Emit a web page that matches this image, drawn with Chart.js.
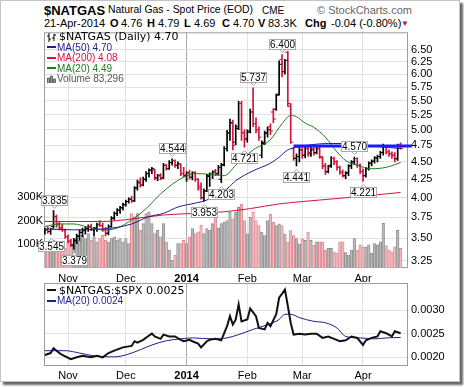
<!DOCTYPE html>
<html>
<head>
<meta charset="utf-8">
<title>$NATGAS</title>
<script src="https://cdn.jsdelivr.net/npm/chart.js@4/dist/chart.umd.min.js"></script>
<style>
  body { margin: 0; background: #fff; }
  #frame { position: absolute; left: 0; top: 0; width: 458px; height: 380px; border: 1px solid #c4c4c4; box-shadow: 3px 3px 2px #666; background: #fff; }
  canvas { position: absolute; left: 0; }
  #main { top: 30px; }
  #ratio { top: 281px; }
  .t { position: absolute; white-space: nowrap; line-height: 1; font-family: "Liberation Sans", Arial, sans-serif; color: #000; }
  .dv { font-family: "DejaVu Sans", Verdana, sans-serif; }
  .b { font-weight: bold; }
  .mk { position: absolute; width: 9px; height: 2px; }
</style>
</head>
<body>
<div id="frame"></div>
<canvas id="main" width="464" height="252"></canvas>
<canvas id="ratio" width="464" height="100"></canvas>

<div class="t b" style="left:44px;top:4px;font-size:13px">$NATGAS</div>
<div class="t" style="left:108px;top:5px;font-size:10.4px">Natural Gas - Spot Price (EOD)</div>
<div class="t" style="left:262px;top:6px;font-size:10px">CME</div>
<div class="t" style="left:317px;top:5px;font-size:11px;color:#666">&copy; StockCharts.com</div>

<div class="t" style="left:44px;top:18px;font-size:11px">21-Apr-2014</div>
<div class="t b" style="left:110px;top:18px;font-size:11px">O</div>
<div class="t" style="left:121px;top:18px;font-size:11px">4.76</div>
<div class="t b" style="left:147px;top:18px;font-size:11px">H</div>
<div class="t" style="left:158px;top:18px;font-size:11px">4.79</div>
<div class="t b" style="left:184px;top:18px;font-size:11px">L</div>
<div class="t" style="left:194px;top:18px;font-size:11px">4.69</div>
<div class="t b" style="left:222px;top:18px;font-size:11px">C</div>
<div class="t" style="left:233px;top:18px;font-size:11px">4.70</div>
<div class="t b" style="left:258px;top:18px;font-size:11px">V</div>
<div class="t" style="left:268px;top:18px;font-size:11px">83.3K</div>
<div class="t b" style="left:305px;top:18px;font-size:11px">Chg</div>
<div class="t" style="left:331px;top:18px;font-size:11px">-0.04 (-0.80%)</div>
<div class="t" style="left:401px;top:20px;font-size:8px;color:#c8102e">&#9660;</div>

<svg style="position:absolute;left:47px;top:33px" width="10" height="9">
  <path d="M2 0V9M0 3H2M2 6H4M7 1V8M5 5H7M7 2H9" stroke="#000" stroke-width="1" fill="none"/>
</svg>
<div class="t dv" style="left:59px;top:31px;font-size:11px">$NATGAS (Daily) 4.70</div>
<div class="mk" style="left:47px;top:46px;background:#1f1f8f"></div>
<div class="t" style="left:57px;top:42.5px;font-size:10px;color:#1f1f8f">MA(50) 4.70</div>
<div class="mk" style="left:47px;top:56.5px;background:#d4143c"></div>
<div class="t" style="left:57px;top:53px;font-size:10px;color:#d4143c">MA(200) 4.08</div>
<div class="mk" style="left:47px;top:67px;background:#1e7d1e"></div>
<div class="t" style="left:57px;top:63.5px;font-size:10px;color:#1e7d1e">MA(20) 4.49</div>
<svg style="position:absolute;left:47px;top:75px" width="10" height="8">
  <path d="M0.5 8V3H2.5V8M3.5 8V1H5.5V8M6.5 8V4H8.5V8" stroke="#666" stroke-width="1" fill="#999"/>
</svg>
<div class="t" style="left:57px;top:74px;font-size:10px;color:#555">Volume 83,296</div>

<div class="mk" style="left:47px;top:289px;background:#111"></div>
<div class="t dv" style="left:59px;top:285px;font-size:11px">$NATGAS:$SPX 0.0025</div>
<div class="mk" style="left:47px;top:299.5px;background:#1f1f8f"></div>
<div class="t" style="left:57px;top:296px;font-size:10px;color:#1f1f8f">MA(20) 0.0024</div>

<script>
// daily bars, 22-Oct-2013 .. 21-Apr-2014 (index = trading day)
const opens = [3.57,3.60,3.58,3.64,3.76,3.67,3.63,3.60,3.52,3.47,
  3.42,3.47,3.52,3.57,3.59,3.62,3.64,3.60,3.62,3.67,
  3.65,3.60,3.56,3.64,3.74,3.80,3.84,3.87,3.91,3.95,
  3.99,3.96,4.13,4.22,4.17,4.25,4.33,4.38,4.38,4.27,
  4.31,4.27,4.45,4.40,4.49,4.52,4.45,4.46,4.33,4.30,
  4.34,4.28,4.34,4.25,4.15,4.00,4.09,4.29,4.32,4.37,
  4.33,4.25,4.46,4.70,4.95,5.10,4.80,5.05,5.45,4.95,
  4.85,4.98,5.30,5.10,5.00,4.60,4.80,4.95,5.05,5.30,
  5.35,5.62,6.30,6.05,6.45,5.40,4.70,4.55,4.58,4.68,
  4.60,4.70,4.62,4.70,4.64,4.70,4.56,4.44,4.36,4.45,
  4.55,4.50,4.42,4.35,4.30,4.34,4.44,4.50,4.55,4.45,
  4.36,4.30,4.40,4.48,4.51,4.56,4.58,4.64,4.74,4.65,
  4.62,4.60,4.55,4.76];
const highs = [3.62,3.64,3.62,3.835,3.78,3.70,3.67,3.61,3.54,3.49,
  3.50,3.55,3.60,3.62,3.64,3.66,3.67,3.63,3.68,3.71,
  3.68,3.63,3.66,3.76,3.82,3.86,3.89,3.93,3.97,4.00,
  4.02,4.15,4.24,4.27,4.28,4.36,4.40,4.42,4.39,4.32,
  4.33,4.48,4.46,4.52,4.544,4.53,4.50,4.47,4.42,4.36,
  4.38,4.36,4.36,4.26,4.20,4.12,4.32,4.34,4.37,4.39,
  4.45,4.48,4.73,4.99,5.18,5.16,5.08,5.49,5.49,5.00,
  5.00,5.35,5.737,5.20,5.05,4.82,4.98,5.05,5.10,5.36,
  5.62,6.27,6.40,6.30,6.47,5.45,4.72,4.62,4.72,4.75,
  4.74,4.74,4.72,4.73,4.74,4.72,4.58,4.48,4.45,4.58,
  4.57,4.52,4.44,4.38,4.36,4.46,4.52,4.57,4.56,4.47,
  4.40,4.42,4.50,4.53,4.58,4.60,4.66,4.77,4.75,4.68,
  4.65,4.64,4.77,4.79];
const lows = [3.55,3.56,3.545,3.62,3.63,3.60,3.58,3.50,3.45,3.41,
  3.379,3.44,3.48,3.52,3.55,3.58,3.59,3.53,3.58,3.64,
  3.58,3.53,3.54,3.63,3.72,3.77,3.80,3.84,3.89,3.93,
  3.94,3.95,4.10,4.14,4.16,4.22,4.28,4.33,4.24,4.23,
  4.24,4.26,4.38,4.39,4.45,4.42,4.40,4.30,4.28,4.22,
  4.25,4.24,4.22,4.10,3.98,3.953,4.08,4.15,4.26,4.30,
  4.32,4.203,4.44,4.66,4.83,4.68,4.76,5.00,4.83,4.721,
  4.80,4.95,5.05,4.95,4.83,4.56,4.76,4.88,4.92,5.12,
  5.33,5.60,5.95,6.00,5.40,4.78,4.52,4.441,4.50,4.55,
  4.56,4.58,4.58,4.60,4.62,4.55,4.40,4.32,4.34,4.42,
  4.46,4.38,4.32,4.28,4.26,4.30,4.40,4.46,4.42,4.33,
  4.221,4.28,4.38,4.44,4.48,4.50,4.55,4.60,4.62,4.58,
  4.55,4.50,4.52,4.69];
const closes = [3.60,3.58,3.61,3.76,3.66,3.62,3.60,3.52,3.47,3.43,
  3.48,3.53,3.57,3.60,3.62,3.64,3.61,3.62,3.66,3.65,
  3.60,3.56,3.64,3.74,3.80,3.84,3.87,3.91,3.95,3.98,
  3.96,4.13,4.20,4.17,4.25,4.33,4.38,4.40,4.27,4.30,
  4.26,4.45,4.40,4.49,4.52,4.45,4.47,4.33,4.31,4.34,
  4.28,4.34,4.25,4.12,4.00,4.09,4.30,4.32,4.35,4.32,
  4.42,4.45,4.70,4.95,5.12,4.75,5.02,5.45,4.95,4.85,
  4.96,5.30,5.10,5.00,4.88,4.78,4.94,5.00,4.98,5.18,
  5.60,6.20,6.05,6.28,5.45,4.80,4.56,4.58,4.68,4.60,
  4.70,4.64,4.68,4.63,4.70,4.58,4.44,4.35,4.43,4.55,
  4.50,4.42,4.35,4.30,4.34,4.44,4.50,4.55,4.45,4.36,
  4.30,4.40,4.48,4.51,4.56,4.58,4.64,4.74,4.65,4.62,
  4.60,4.54,4.74,4.70];
// volume in thousands
const volumes = [90,110,85,118,104,90,95,85,111,100,
  104,125,118,139,125,146,118,132,111,125,
  139,118,111,125,132,118,125,111,125,104,
  231,217,231,160,188,231,238,188,146,160,
  132,188,111,76,34,55,104,104,118,104,
  132,167,146,153,181,146,167,160,188,259,
  170,188,194,201,236,208,236,257,271,201,
  145,215,236,201,180,152,138,201,229,194,
  180,187,180,145,110,159,138,125,103,124,
  117,152,117,96,111,111,111,76,83,83,
  69,62,111,111,65,55,76,125,76,98,
  90,88,98,62,104,98,111,189,95,76,
  69,90,160,83];

// moving averages (day index, value)
const ma50X = [0,10,20,25,30,36,41,46,52,56,60,63,66,72,78,81,84,87,92,98,104,110,116,123];
const ma50Y = [3.61,3.60,3.61,3.63,3.67,3.76,3.80,3.88,3.93,3.97,4.06,4.12,4.23,4.37,4.48,4.57,4.68,4.72,4.76,4.78,4.78,4.76,4.73,4.70];
const ma200X = [0,20,30,41,52,62,71,81,89,95,107,123];
const ma200Y = [3.70,3.70,3.73,3.78,3.80,3.82,3.86,3.92,3.95,3.97,4.01,4.07];
const ma20X = [0,5,10,15,20,25,30,35,40,44,48,52,57,62,66,72,78,82,85,87,90,93,97,101,104,108,113,118,123];
const ma20Y = [3.64,3.67,3.67,3.63,3.60,3.62,3.72,3.86,4.05,4.18,4.28,4.33,4.32,4.30,4.45,4.68,4.84,5.10,5.24,5.22,5.11,5.04,4.88,4.65,4.52,4.45,4.40,4.42,4.49];

// drawn resistance line
const trendX = [86, 126.9];
const trendY = [4.74, 4.74];

// labelled swing highs / lows
const annIdx = [3, 2, 10, 44, 55, 61, 69, 72, 82, 87, 107, 110];
const annSide = ['H','L','L','H','L','L','L','H','H','L','H','L'];

// $NATGAS:$SPX ratio panel
const ratioX = [0,2,3,5,6,9,11,13,16,18,20,22,24,27,30,31,32,34,36,37,38,40,41,43,45,47,48,50,51,53,54,56,57,59,61,62,63,64,65,66,67,68,70,71,73,74,76,77,78,80,81,82,83,84,85,86,88,90,92,94,96,98,100,102,104,106,108,110,111,113,115,116,118,120,121,123];
const ratioY = [0.00205,0.00209,0.00219,0.00209,0.00205,0.00196,0.00200,0.00203,0.00200,0.00203,0.00200,0.00209,0.00214,0.00221,0.00224,0.00234,0.00231,0.00237,0.00246,0.00250,0.00244,0.00239,0.00248,0.00244,0.00244,0.00237,0.00234,0.00237,0.00234,0.00229,0.00221,0.00234,0.00237,0.00239,0.00236,0.00251,0.00266,0.00287,0.00269,0.00280,0.00312,0.00276,0.00280,0.00303,0.00287,0.00262,0.00259,0.00273,0.00266,0.00291,0.00326,0.00334,0.00343,0.00309,0.00273,0.00248,0.00250,0.00248,0.00250,0.00250,0.00241,0.00244,0.00239,0.00234,0.00236,0.00244,0.00241,0.00226,0.00236,0.00241,0.00244,0.00255,0.00251,0.00244,0.00255,0.00251];
const ratioMaX = [0,7,12,17,24,28,33,37,42,47,51,58,63,67,72,77,81,83,85,88,93,97,101,104,109,114,118,123];
const ratioMaY = [0.00214,0.00214,0.00209,0.00203,0.00201,0.00205,0.00216,0.00226,0.00235,0.00239,0.00241,0.00239,0.00241,0.00248,0.00259,0.00269,0.00280,0.00291,0.00291,0.00284,0.00276,0.00273,0.00262,0.00244,0.00241,0.00239,0.00241,0.00242];

// axis ticks
const tickIdx = [8, 28, 49, 70, 89, 110];
const tickLbl = ['Nov', 'Dec', '2014', 'Feb', 'Mar', 'Apr'];
const priceTicks = [3.25,3.5,3.75,4,4.25,4.5,4.75,5,5.25,5.5,5.75,6,6.25,6.5];
const volTicks = [100, 200, 300];
const ratioTicks = [0.002, 0.0025, 0.003];

const fontFam = '"Liberation Sans", Arial, sans-serif';
Chart.defaults.font.family = fontFam;

function pts(xs, ys) {
  return xs.map(function(x, k) { return { x: x, y: ys[k] }; });
}

var upBar = closes.map(function(c, i) { return c >= opens[i]; });
var barColor = upBar.map(function(u) { return u ? '#000000' : '#d4143c'; });
var volFill = upBar.map(function(u) { return u ? '#bababa' : '#f3b9be'; });
var volEdge = upBar.map(function(u) { return u ? '#8a8a8a' : '#d98089'; });

function mkX(h, pad) {
  return {
    type: 'linear', min: -0.3, max: 125.56, offset: false,
    afterBuildTicks: function(s) { s.ticks = tickIdx.map(function(v) { return { value: v }; }); },
    afterFit: function(s) { s.height = h; s.paddingLeft = 0; s.paddingRight = 0; },
    grid: { offset: false, drawTicks: false,
      color: function(c) { return (c.tick && c.tick.value === 49) ? '#a8a8a8' : '#e2e2e2'; } },
    border: { display: false },
    ticks: {
      autoSkip: false, maxRotation: 0, padding: pad, color: '#000',
      font: function(c) { return { family: fontFam, size: 11, weight: (c.tick && c.tick.value === 49) ? 'bold' : 'normal' }; },
      callback: function(v) { return tickLbl[tickIdx.indexOf(v)]; }
    }
  };
}

var frame = {
  id: 'frame',
  beforeDatasetsDraw: function(chart) {
    var a = chart.chartArea, c = chart.ctx;
    c.save();
    c.strokeStyle = '#9c9c9c';
    c.lineWidth = 1;
    c.strokeRect(a.left + 0.5, a.top + 0.5, a.right - a.left - 1, a.bottom - a.top - 1);
    c.restore();
  }
};

var priceLabels = {
  id: 'priceLabels',
  afterDraw: function(chart) {
    var ctx = chart.ctx, x = chart.scales.x, y = chart.scales.y;
    ctx.save();
    ctx.font = '10px ' + fontFam;
    ctx.textAlign = 'center';
    ctx.textBaseline = 'middle';
    ctx.lineWidth = 1;
    annIdx.forEach(function(i, k) {
      var hi = annSide[k] === 'H';
      var v = hi ? highs[i] : lows[i];
      var cx = Math.round(x.getPixelForValue(i)) + 0.5;
      var py = y.getPixelForValue(v);
      var w = 26, h = 10;
      var top = Math.round(hi ? py - 6 - h : py + 6) + 0.5;
      ctx.fillStyle = '#fff';
      ctx.strokeStyle = '#aaa';
      ctx.beginPath();
      if (hi) { ctx.moveTo(cx - 3, top + h); ctx.lineTo(cx, top + h + 3); ctx.lineTo(cx + 3, top + h); }
      else { ctx.moveTo(cx - 3, top); ctx.lineTo(cx, top - 3); ctx.lineTo(cx + 3, top); }
      ctx.fill();
      ctx.stroke();
      ctx.fillRect(cx - w / 2, top, w, h);
      ctx.strokeRect(cx - w / 2, top, w, h);
      ctx.fillStyle = '#000';
      ctx.fillText(v.toFixed(3), cx, top + h / 2 + 0.5);
    });
    ctx.restore();
  }
};

function lineDs(data, color, width, order) {
  return { type: 'line', data: data, yAxisID: 'y', borderColor: color, borderWidth: width,
    pointRadius: 0, tension: 0.4, cubicInterpolationMode: 'monotone', order: order };
}

new Chart(document.getElementById('main'), {
  type: 'line',
  data: {
    datasets: [
      { type: 'line', data: pts(trendX, trendY), yAxisID: 'y', borderColor: '#1a1aff', borderWidth: 3,
        pointRadius: 0, clip: { left: 0, top: 0, right: 14, bottom: 0 }, order: 0 },
      lineDs(pts(ma50X, ma50Y), '#1f1f8f', 1, 1),
      lineDs(pts(ma200X, ma200Y), '#d4143c', 1, 2),
      lineDs(pts(ma20X, ma20Y), '#1e7d1e', 1, 3),
      { type: 'line', data: opens.map(function(v, i) { return { x: i - 0.45, y: v }; }), yAxisID: 'y',
        showLine: false, pointStyle: 'line', pointRadius: 1.3, pointHoverRadius: 1.3,
        pointBorderWidth: 1, pointBorderColor: barColor, order: 5 },
      { type: 'line', data: closes.map(function(v, i) { return { x: i + 0.45, y: v }; }), yAxisID: 'y',
        showLine: false, pointStyle: 'line', pointRadius: 1.3, pointHoverRadius: 1.3,
        pointBorderWidth: 1, pointBorderColor: barColor, order: 5 },
      { type: 'bar', data: highs.map(function(h, i) { return { x: i, y: [lows[i], h] }; }), yAxisID: 'y',
        backgroundColor: barColor, barThickness: 1, grouped: false, order: 6 },
      { type: 'bar', data: volumes.map(function(v, i) { return { x: i, y: v }; }), yAxisID: 'vol',
        backgroundColor: volFill, borderColor: volEdge, borderWidth: 0.8, barThickness: 2.6,
        grouped: false, order: 9 }
    ]
  },
  options: {
    responsive: false, animation: false, events: [],
    layout: { padding: { top: 2, left: 0, right: 0, bottom: 0 } },
    plugins: { legend: { display: false }, tooltip: { enabled: false } },
    scales: {
      x: mkX(14, 4),
      y: {
        type: 'logarithmic', position: 'right', min: 3.176, max: 6.886,
        afterBuildTicks: function(s) { s.ticks = priceTicks.map(function(v) { return { value: v }; }); },
        afterFit: function(s) { s.width = 56; s.paddingTop = 0; s.paddingBottom = 0; },
        grid: { drawTicks: false, color: '#e2e2e2' },
        border: { display: false },
        ticks: { padding: 3, color: '#000', font: { family: fontFam, size: 11 },
          callback: function(v) { return Number(v).toFixed(2); } }
      },
      vol: {
        type: 'linear', position: 'left', min: 0, max: 1000,
        afterBuildTicks: function(s) { s.ticks = volTicks.map(function(v) { return { value: v }; }); },
        afterFit: function(s) { s.width = 44; s.paddingTop = 0; s.paddingBottom = 0; },
        grid: { display: false, drawTicks: false },
        border: { display: false },
        ticks: { padding: 1, color: '#000', font: { family: fontFam, size: 11 },
          callback: function(v) { return v + 'K'; } }
      }
    }
  },
  plugins: [frame, priceLabels]
});

new Chart(document.getElementById('ratio'), {
  type: 'line',
  data: {
    datasets: [
      { data: pts(ratioX, ratioY), borderColor: '#111', borderWidth: 2, pointRadius: 0, tension: 0, order: 0 },
      { data: pts(ratioMaX, ratioMaY), borderColor: '#1f1f8f', borderWidth: 1, pointRadius: 0,
        tension: 0.4, cubicInterpolationMode: 'monotone', order: 1 }
    ]
  },
  options: {
    responsive: false, animation: false, events: [],
    layout: { padding: { top: 2, left: 44, right: 0, bottom: 0 } },
    plugins: { legend: { display: false }, tooltip: { enabled: false } },
    scales: {
      x: mkX(15, 3),
      y: {
        type: 'linear', position: 'right', min: 0.001816, max: 0.003571,
        afterBuildTicks: function(s) { s.ticks = ratioTicks.map(function(v) { return { value: v }; }); },
        afterFit: function(s) { s.width = 56; s.paddingTop = 0; s.paddingBottom = 0; },
        grid: { drawTicks: false, color: '#e2e2e2' },
        border: { display: false },
        ticks: { padding: 3, color: '#000', font: { family: fontFam, size: 11 },
          callback: function(v) { return Number(v).toFixed(4); } }
      }
    }
  },
  plugins: [frame]
});
</script>
</body>
</html>
